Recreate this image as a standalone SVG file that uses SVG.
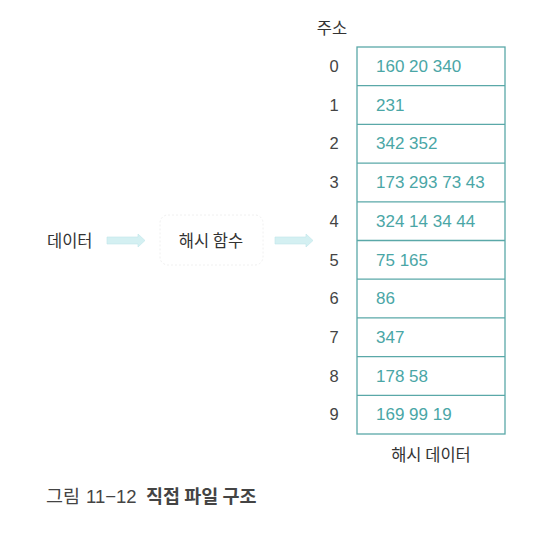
<svg xmlns="http://www.w3.org/2000/svg" width="549" height="540" viewBox="0 0 549 540">
<style>
text{font-family:"Noto Sans CJK KR","Liberation Sans",sans-serif;}
.lbl{font-size:16.5px;fill:#333;}
.idx{font-family:"Liberation Sans",sans-serif;font-size:16.5px;fill:#444;text-anchor:middle;}
.val{font-family:"Liberation Sans",sans-serif;font-size:17px;fill:#4aa6a6;}
.cell{fill:#fff;stroke:#5aa8a8;stroke-width:1.3;}
.arr{fill:#d4f0f2;stroke:#bfe6ea;stroke-width:0.6;}
</style>
<rect width="549" height="540" fill="#fff"/>
<g id="input"><text class="lbl" x="47" y="247">데이터</text></g>
<g id="hashfn">
<rect x="160" y="215" width="103" height="50" rx="8" fill="#fff" stroke="#f0f0f0" stroke-width="1" stroke-dasharray="2 2"/>
<text class="lbl" x="211" y="247" text-anchor="middle">해시 함수</text>
</g>
<g id="connectors">
<path class="arr" d="M107 237 H138 V234 L145 240.5 L138 247 V244 H107 Z"/>
<path class="arr" d="M275 237 H306 V234 L313 240.5 L306 247 V244 H275 Z"/>
</g>
<g id="table">
<text class="lbl" x="332" y="34" text-anchor="middle">주소</text>
<rect class="cell" x="357" y="47" width="148" height="387"/>
<g stroke="#5aa8a8" stroke-width="1.3">
<line x1="357" y1="85.7" x2="505" y2="85.7"/>
<line x1="357" y1="124.4" x2="505" y2="124.4"/>
<line x1="357" y1="163.1" x2="505" y2="163.1"/>
<line x1="357" y1="201.8" x2="505" y2="201.8"/>
<line x1="357" y1="240.5" x2="505" y2="240.5"/>
<line x1="357" y1="279.2" x2="505" y2="279.2"/>
<line x1="357" y1="317.9" x2="505" y2="317.9"/>
<line x1="357" y1="356.6" x2="505" y2="356.6"/>
<line x1="357" y1="395.3" x2="505" y2="395.3"/>
</g>
<g id="row0"><text class="idx" x="334" y="72">0</text><text class="val" x="376" y="72">160 20 340</text></g>
<g id="row1"><text class="idx" x="334" y="110.7">1</text><text class="val" x="376" y="110.7">231</text></g>
<g id="row2"><text class="idx" x="334" y="149.4">2</text><text class="val" x="376" y="149.4">342 352</text></g>
<g id="row3"><text class="idx" x="334" y="188.1">3</text><text class="val" x="376" y="188.1">173 293 73 43</text></g>
<g id="row4"><text class="idx" x="334" y="226.8">4</text><text class="val" x="376" y="226.8">324 14 34 44</text></g>
<g id="row5"><text class="idx" x="334" y="265.5">5</text><text class="val" x="376" y="265.5">75 165</text></g>
<g id="row6"><text class="idx" x="334" y="304.2">6</text><text class="val" x="376" y="304.2">86</text></g>
<g id="row7"><text class="idx" x="334" y="342.9">7</text><text class="val" x="376" y="342.9">347</text></g>
<g id="row8"><text class="idx" x="334" y="381.6">8</text><text class="val" x="376" y="381.6">178 58</text></g>
<g id="row9"><text class="idx" x="334" y="420.3">9</text><text class="val" x="376" y="420.3">169 99 19</text></g>
<text class="lbl" x="431" y="461" text-anchor="middle">해시 데이터</text>
</g>
<g id="caption">
<text y="503" font-size="18.5" fill="#444"><tspan x="46">그림</tspan><tspan x="86" font-family="Liberation Sans, sans-serif">11−12</tspan><tspan x="146" font-weight="bold">직접 파일 구조</tspan></text>
</g>
</svg>
